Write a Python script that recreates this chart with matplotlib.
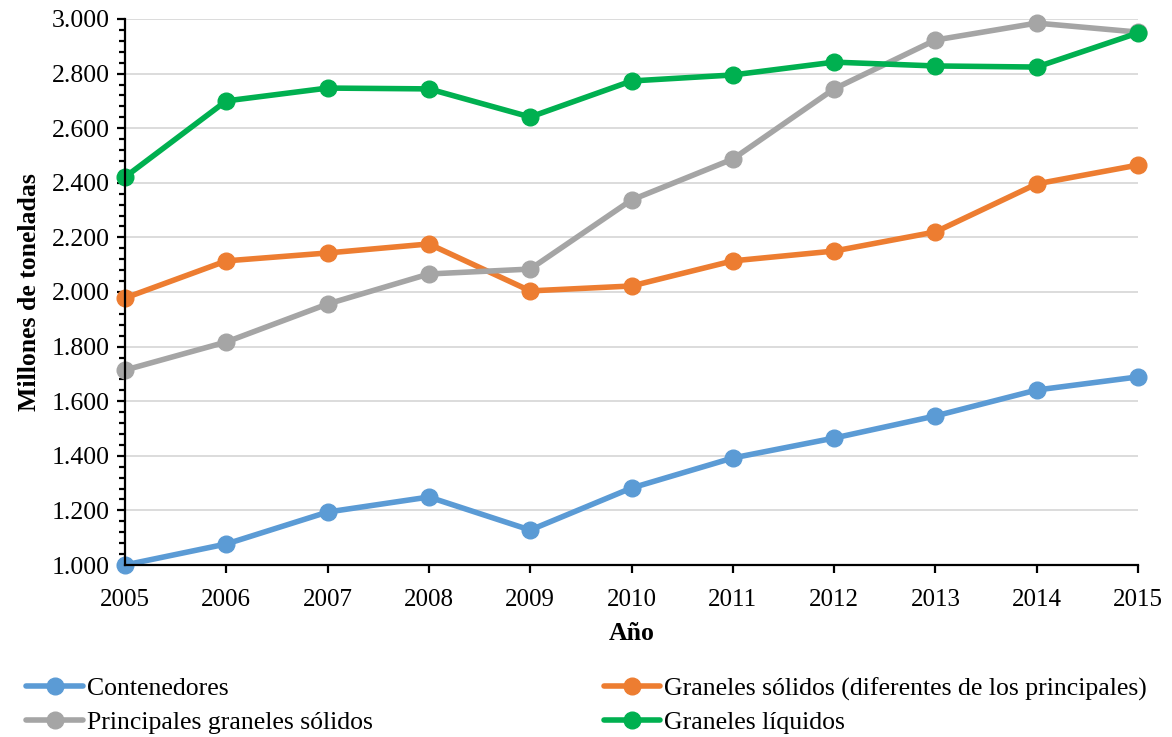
import matplotlib.pyplot as plt
from matplotlib.ticker import FuncFormatter, MultipleLocator

plt.rcParams['font.family'] = ['Liberation Serif', 'DejaVu Serif']

years = [2005, 2006, 2007, 2008, 2009, 2010, 2011, 2012, 2013, 2014, 2015]
contenedores = [1000, 1077, 1194, 1249, 1128, 1282, 1392, 1465, 1546, 1641, 1689]
graneles_solidos = [1978, 2114, 2143, 2176, 2004, 2022, 2114, 2150, 2220, 2396, 2465]
principales = [1714, 1817, 1956, 2066, 2084, 2337, 2487, 2744, 2923, 2985, 2952]
liquidos = [2421, 2700, 2747, 2744, 2641, 2773, 2795, 2842, 2828, 2824, 2949]

fig = plt.figure(figsize=(11.72, 7.37), dpi=100)
ax = fig.add_axes([125 / 1172, 1 - 565 / 737, (1138 - 125) / 1172, (565 - 19) / 737])

style = dict(lw=4, marker='o', markersize=12, solid_capstyle='round')
l1, = ax.plot(years, contenedores, color='#5B9BD5', label='Contenedores', **style)
l2, = ax.plot(years, graneles_solidos, color='#ED7D31',
              label='Graneles sólidos (diferentes de los principales)', **style)
l3, = ax.plot(years, principales, color='#A5A5A5', label='Principales graneles sólidos', **style)
l4, = ax.plot(years, liquidos, color='#00B050', label='Graneles líquidos', **style)
for ln in (l1, l2, l3, l4):
    ln.set_clip_on(False)

ax.set_xlim(2005, 2015)
ax.set_ylim(1000, 3000)
ax.set_xticks(years)
ax.yaxis.set_major_locator(MultipleLocator(200))
ax.yaxis.set_minor_locator(MultipleLocator(40))
ax.yaxis.set_major_formatter(FuncFormatter(lambda v, p: f"{v:,.0f}".replace(',', '.')))
ax.grid(axis='y', color='#d9d9d9', lw=1.3)
ax.set_axisbelow(True)
for s in ('top', 'right'):
    ax.spines[s].set_visible(False)
for s in ('left', 'bottom'):
    ax.spines[s].set_linewidth(1.6)
ax.tick_params(axis='both', labelsize=18, width=1.6, length=6, direction='out')
ax.tick_params(axis='y', which='minor', width=1.6, length=4)
ax.tick_params(axis='y', labelsize=18.5, pad=5)
ax.tick_params(axis='x', pad=11)
ax.set_xlabel('Año', fontsize=18.5, fontweight='bold', labelpad=8)
ax.set_ylabel('Millones de toneladas', fontsize=18.5, fontweight='bold', labelpad=8)

fig.legend([l1, l3, l2, l4], [l.get_label() for l in (l1, l3, l2, l4)],
           ncol=2, loc='upper left', bbox_to_anchor=(16 / 1172, 1 - 667 / 737),
           frameon=False, fontsize=18.5, handlelength=2.2, handletextpad=0.15,
           columnspacing=9.0, labelspacing=0.4, borderaxespad=0)

fig.savefig('out.png', dpi=100)
